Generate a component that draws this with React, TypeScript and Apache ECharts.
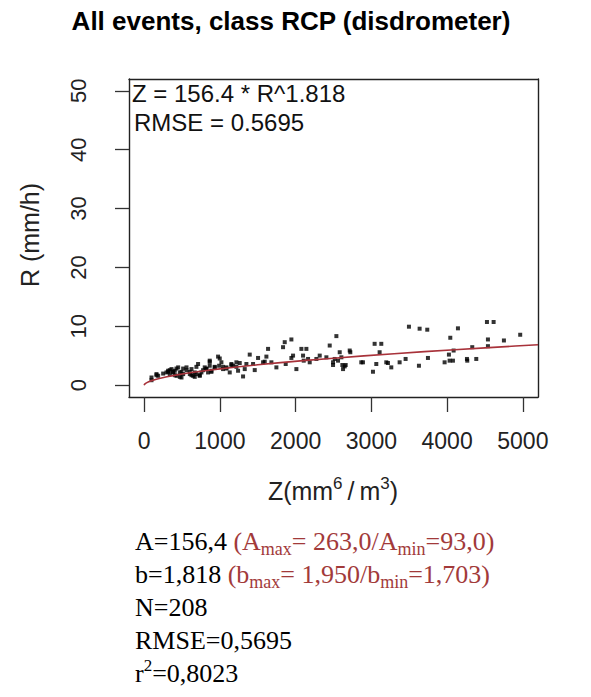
import React, { useEffect, useRef } from "react";
import * as echarts from "echarts";

const chartTitle = "All events, class RCP (disdrometer)";
const xTicks = [0, 1000, 2000, 3000, 4000, 5000];
const yTicks = [0, 10, 20, 30, 40, 50];
const xTitleParts = ["Z(mm", "6", "\u2009/\u2009m", "3", ")"];
const yTitle = "R (mm/h)";
const fitLines = ["Z = 156.4 * R^1.818", "RMSE = 0.5695"];

// Fitted relation Z = A * R^b
const fitA = 156.4;
const fitB = 1.818;
const fitZGrid = [0, 5, 15, 30, 60, 100, 150, 200, 300, 400, 500, 650, 800, 1000, 1250, 1500, 1800, 2100, 2500, 2900, 3300, 3700, 4100, 4500, 4900, 5200];

// Scatter points: reflectivity Z (mm^6/m^3) and rain rate R (mm/h)
const zValues = [
  97, 163, 185, 295, 317, 339, 361, 383, 405, 427, 449, 471, 493, 515, 559, 603, 625, 647, 668, 690,
  712, 734, 756, 800, 822, 844, 866, 866, 888, 932, 976, 990, 1020, 1042, 1086, 1130, 1152, 1174, 1218, 1240,
  1262, 1306, 1328, 1350, 1394, 1438, 1460, 1504, 1570, 1592, 1614, 1636, 1680, 1746, 1834, 1856, 1869, 1944, 1944, 1966,
  2010, 2076, 2098, 2107, 2142, 2164, 2186, 2274, 2318, 2406, 2450, 2494, 2494, 2516, 2538, 2560, 2582, 2604, 2617, 2626,
  2648, 2661, 2714, 2722, 2867, 2889, 3021, 3043, 3065, 3109, 3131, 3197, 3219, 3263, 3373, 3452, 3496, 3628, 3637, 3738,
  3747, 3967, 4024, 4033, 4042, 4077, 4086, 4143, 4262, 4266, 4332, 4385, 4526, 4539, 4539, 4614, 4750, 4965,
  97, 163, 251, 317, 339, 383, 405, 427, 471, 493, 515, 559, 603, 625, 668, 690, 734, 778, 822, 866,
  888, 932, 998, 1042, 1086, 1152, 1218
];
const rValues = [
  1.31, 1.89, 1.6, 2.17, 2.46, 1.89, 2.74, 2.17, 2.46, 1.6, 3.03, 2.17, 1.31, 1.89, 3.03, 1.89, 2.74, 1.6, 2.17, 1.89,
  3.6, 1.6, 2.17, 3.03, 2.74, 2.17, 4.17, 3.31, 2.46, 3.03, 4.86, 3.31, 3.89, 2.74, 3.03, 2.17, 3.6, 3.31, 3.89, 2.46,
  3.77, 1.49, 2.74, 3.6, 5.2, 3.6, 2.57, 4.63, 3.89, 4.0, 4.86, 6.17, 3.89, 3.03, 6.46, 7.31, 3.6, 7.77, 4.63, 5.03,
  2.74, 6.17, 5.03, 4.17, 6.17, 4.46, 3.89, 4.46, 5.03, 4.74, 6.74, 3.89, 3.43, 4.46, 8.34, 4.17, 5.6, 4.74, 3.43, 2.74,
  3.2, 3.43, 5.89, 5.6, 3.89, 3.89, 2.29, 7.03, 3.6, 5.6, 7.03, 3.89, 3.77, 3.03, 3.89, 4.46, 9.94, 3.31, 9.6, 9.43,
  4.63, 3.89, 5.2, 4.17, 8.06, 4.17, 5.89, 9.66, 4.46, 4.17, 6.46, 4.46, 10.74, 7.77, 6.63, 10.74, 7.6, 8.57,
  0.85, 1.7, 1.98, 2.27, 2.55, 2.27, 1.7, 2.83, 1.42, 2.27, 2.83, 2.55, 2.27, 1.7, 1.42, 3.12, 1.7, 2.55, 2.83, 3.97,
  2.27, 3.12, 4.54, 3.12, 2.83, 3.4, 3.12
];

const statLines = [
  "{k|A=156,4 }{r|(A}{rs|max}{r|= 263,0/A}{rs|min}{r|=93,0)}",
  "{k|b=1,818 }{r|(b}{rs|max}{r|= 1,950/b}{rs|min}{r|=1,703)}",
  "{k|N=208}",
  "{k|RMSE=0,5695}",
  "{k|r}{sup|2}{k|=0,8023}",
];

const SANS = '"Liberation Sans", Arial, Helvetica, sans-serif';
const SERIF = '"Liberation Serif", "Times New Roman", serif';
const RED = "#a23a3a";
const BOX = "#222";

export default function App() {
  const ref = useRef<HTMLDivElement>(null);
  useEffect(() => {
    if (!ref.current) return;
    const chart = echarts.init(ref.current, null, { renderer: "svg" });
    const points = zValues.map((z, i) => [z, rValues[i]]);
    const fit = fitZGrid.map((z) => [z, Math.pow(z / fitA, 1 / fitB)]);
    const graphics: any[] = [
      {
        type: "text",
        x: 291,
        y: 21,
        style: {
          text: chartTitle,
          font: `bold 26px ${SANS}`,
          fill: "#000",
          textAlign: "center",
          textVerticalAlign: "middle",
        },
      },
      {
        type: "text",
        x: 132,
        y: 93,
        z: 10,
        style: { text: fitLines[0], font: `24px ${SANS}`, fill: "#111", textAlign: "left", textVerticalAlign: "middle" },
      },
      {
        type: "text",
        x: 134,
        y: 122,
        z: 10,
        style: { text: fitLines[1], font: `24px ${SANS}`, fill: "#111", textAlign: "left", textVerticalAlign: "middle" },
      },
      {
        type: "text",
        x: 30,
        y: 235,
        rotation: Math.PI / 2,
        style: { text: yTitle, font: `25px ${SANS}`, fill: "#222", textAlign: "center", textVerticalAlign: "middle" },
      },
      {
        type: "text",
        x: 333,
        y: 491,
        style: {
          text: `{t|${xTitleParts[0]}}{s|${xTitleParts[1]}}{t|${xTitleParts[2]}}{s|${xTitleParts[3]}}{t|${xTitleParts[4]}}`,
          textAlign: "center",
          textVerticalAlign: "middle",
          rich: {
            t: { fontFamily: SANS, fontSize: 25, fill: "#222", lineHeight: 32 },
            s: { fontFamily: SANS, fontSize: 17, fill: "#222", lineHeight: 20, verticalAlign: "top" },
          },
        },
      },
    ];
    statLines.forEach((line, i) => {
      graphics.push({
        type: "text",
        x: 135,
        y: 541 + i * 33,
        style: {
          text: line,
          textAlign: "left",
          textVerticalAlign: "middle",
          rich: {
            k: { fontFamily: SERIF, fontSize: 26, fill: "#000", lineHeight: 33 },
            r: { fontFamily: SERIF, fontSize: 26, fill: RED, lineHeight: 33 },
            rs: { fontFamily: SERIF, fontSize: 18, fill: RED, lineHeight: 22, verticalAlign: "bottom" },
            sup: { fontFamily: SERIF, fontSize: 17, fill: "#000", lineHeight: 20, verticalAlign: "top" },
          },
        },
      });
    });

    const plainLabel = (v: number) => String(v);

    chart.setOption({
      animation: false,
      backgroundColor: "#fff",
      grid: {
        left: 129,
        top: 79,
        width: 409,
        height: 318,
        show: false,
      },
      xAxis: [
        {
          type: "value",
          position: "bottom",
          min: -200,
          max: 5200,
          axisLine: { show: true, onZero: false, lineStyle: { color: BOX, width: 1.4 } },
          splitLine: { show: false },
          axisTick: { show: true, length: 15, customValues: xTicks, lineStyle: { color: "#333", width: 1.3 } },
          axisLabel: {
            customValues: xTicks,
            formatter: plainLabel,
            fontFamily: SANS,
            fontSize: 23,
            color: "#222",
            margin: 32,
          },
        },
        {
          type: "value",
          position: "top",
          min: -200,
          max: 5200,
          axisLine: { show: true, onZero: false, lineStyle: { color: BOX, width: 1.4 } },
          splitLine: { show: false },
          axisTick: { show: false },
          axisLabel: { show: false },
        },
      ],
      yAxis: [
        {
          type: "value",
          position: "left",
          min: -2,
          max: 52,
          axisLine: { show: true, onZero: false, lineStyle: { color: BOX, width: 1.4 } },
          splitLine: { show: false },
          axisTick: { show: true, length: 14, customValues: yTicks, lineStyle: { color: "#333", width: 1.3 } },
          axisLabel: {
            customValues: yTicks,
            formatter: plainLabel,
            rotate: 90,
            fontFamily: SANS,
            fontSize: 22,
            color: "#222",
            margin: 40,
          },
        },
        {
          type: "value",
          position: "right",
          min: -2,
          max: 52,
          axisLine: { show: true, onZero: false, lineStyle: { color: BOX, width: 1.4 } },
          splitLine: { show: false },
          axisTick: { show: false },
          axisLabel: { show: false },
        },
      ],
      series: [
        {
          type: "scatter",
          data: points,
          symbol: "rect",
          symbolSize: 4,
          itemStyle: { color: "#000" },
          silent: true,
        },
        {
          type: "line",
          data: fit,
          showSymbol: false,
          lineStyle: { color: "#a8323a", width: 1.6 },
          silent: true,
        },
      ],
      graphic: graphics,
    });
    return () => chart.dispose();
  }, []);
  return (
    <div
      ref={ref}
      style={{ position: "fixed", left: 0, top: 0, width: 591, height: 697, background: "#fff" }}
    />
  );
}
